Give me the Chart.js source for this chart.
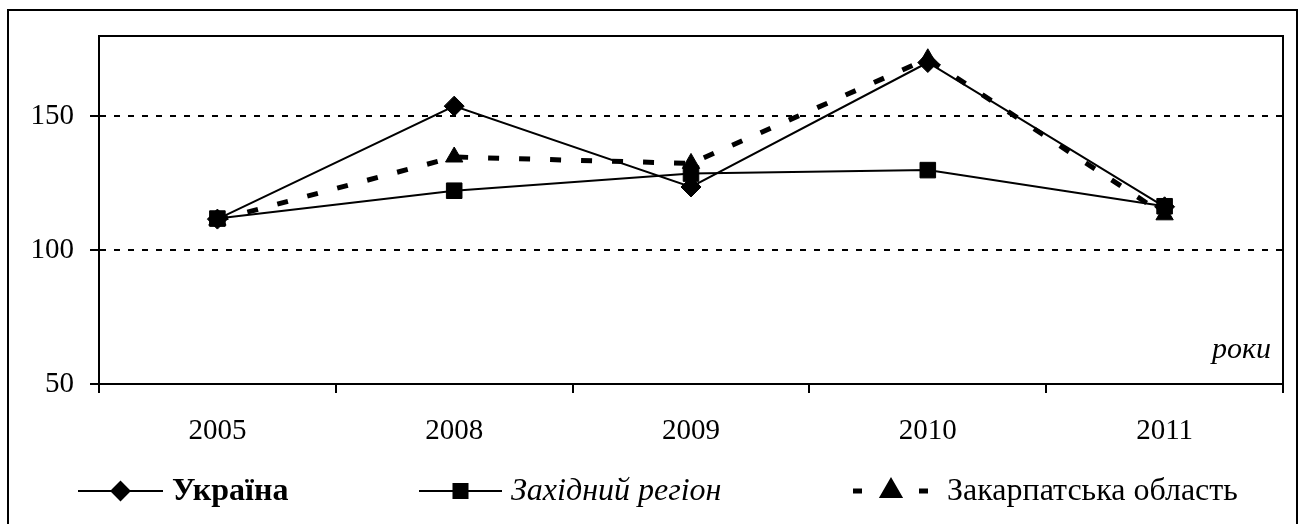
<!DOCTYPE html>
<html>
<head>
<meta charset="utf-8">
<script src="https://cdn.jsdelivr.net/npm/chart.js@4.4.1/dist/chart.umd.min.js"></script>
<style>
  html, body { margin: 0; padding: 0; background: #fff; }
  #wrap { position: relative; width: 1308px; height: 524px; }
</style>
</head>
<body>
<div id="wrap"><canvas id="chart" width="1308" height="524"></canvas></div>
<script>
// values
const years = ['2005', '2008', '2009', '2010', '2011'];
const ukraine = [111.6, 153.8, 123.6, 170.1, 116.2];
const westRegion = [111.8, 122.2, 128.6, 129.9, 116.4];
const zakarpattia = [111.2, 134.8, 132.4, 171.5, 113.2];
const yTicks = [50, 100, 150];
const seriesNames = ['Україна', 'Західний регіон', 'Закарпатська область'];
const axisNote = 'роки';

const FONT = "'Liberation Serif', 'Times New Roman', serif";
Chart.defaults.font.family = FONT;
Chart.defaults.font.size = 29;
Chart.defaults.color = '#000';

// frame, top/right plot border, axis note and the line+marker legend
const decorations = {
  id: 'decorations',
  afterDraw(chart, args, opts) {
    const ctx = chart.ctx;
    const a = chart.chartArea;
    ctx.save();
    ctx.strokeStyle = '#000';
    ctx.lineWidth = 2;
    ctx.strokeRect(8, 10, 1289, 600);
    ctx.beginPath();
    ctx.moveTo(a.left, a.top);
    ctx.lineTo(a.right, a.top);
    ctx.lineTo(a.right, a.bottom);
    ctx.stroke();

    ctx.fillStyle = '#000';
    ctx.font = 'italic 30px ' + FONT;
    ctx.textAlign = 'right';
    ctx.textBaseline = 'middle';
    ctx.fillText(axisNote, a.right - 12, a.bottom - 34);

    ctx.textAlign = 'left';
    chart.data.datasets.forEach((ds, i) => {
      const it = opts.items[i];
      const y = opts.y;
      ctx.lineWidth = ds.borderWidth;
      ctx.setLineDash(it.dash || []);
      ctx.beginPath();
      ctx.moveTo(it.x0, y);
      ctx.lineTo(it.x1, y);
      ctx.stroke();
      ctx.setLineDash([]);
      Chart.helpers.drawPoint(ctx, {
        pointStyle: ds.pointStyle, radius: ds.pointRadius * 0.9, borderWidth: 1, rotation: 0
      }, (it.x0 + it.x1) / 2, y);
      ctx.font = it.font + ' ' + FONT;
      ctx.fillText(ds.label, it.tx, y + 1);
    });
    ctx.restore();
  }
};

new Chart(document.getElementById('chart'), {
  type: 'line',
  data: {
    labels: years,
    datasets: [
      {
        label: seriesNames[0], data: ukraine,
        borderColor: '#000', backgroundColor: '#000', borderWidth: 2,
        pointStyle: 'rectRot', pointRadius: 10, pointBorderWidth: 1
      },
      {
        label: seriesNames[1], data: westRegion,
        borderColor: '#000', backgroundColor: '#000', borderWidth: 2,
        pointStyle: 'rect', pointRadius: 11, pointBorderWidth: 1
      },
      {
        label: seriesNames[2], data: zakarpattia,
        borderColor: '#000', backgroundColor: '#000', borderWidth: 5,
        borderDash: [11, 20],
        pointStyle: 'triangle', pointRadius: 10, pointBorderWidth: 1
      }
    ]
  },
  options: {
    responsive: false,
    animation: false,
    devicePixelRatio: 1,
    layout: { padding: { left: 0, top: 36, right: 25, bottom: 0 } },
    plugins: {
      legend: { display: false },
      tooltip: { enabled: false },
      decorations: {
        y: 491,
        items: [
          { x0: 78, x1: 163, tx: 172, font: 'bold 32px' },
          { x0: 419, x1: 502, tx: 511, font: 'italic 32px' },
          { x0: 853, x1: 929, tx: 947, font: '32px', dash: [9, 24] }
        ]
      }
    },
    scales: {
      x: {
        offset: true,
        grid: { offset: true, drawOnChartArea: false, color: '#000', lineWidth: 2, tickLength: 9 },
        border: { color: '#000', width: 2 },
        ticks: { padding: 21, maxRotation: 0 },
        afterFit: s => { s.height = 140; }
      },
      y: {
        min: 50,
        max: 180,
        afterBuildTicks: s => { s.ticks = yTicks.map(v => ({ value: v })); },
        grid: {
          color: c => (c.tick && c.tick.value === 50) ? 'rgba(0,0,0,0)' : '#000',
          lineWidth: 2, tickColor: '#000', tickWidth: 2, tickLength: 9
        },
        border: { color: '#000', width: 2, dash: [6, 8] },
        ticks: { padding: 16 },
        afterFit: s => { s.width = 99; }
      }
    }
  },
  plugins: [decorations]
});
</script>
</body>
</html>
